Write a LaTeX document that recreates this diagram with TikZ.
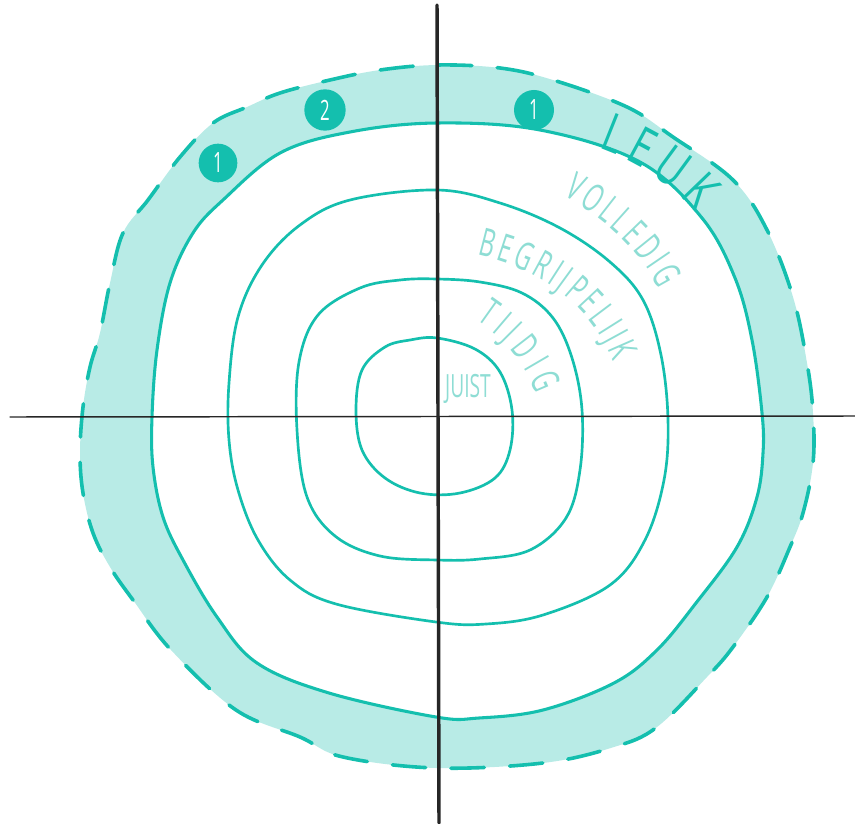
\documentclass[tikz,border=0pt]{standalone}
\usepackage{fontspec}
\usetikzlibrary{decorations.text}
\newfontfamily\handwide[FakeStretch=0.72]{Open Sans}
\newfontfamily\handnarrow[FakeStretch=0.6]{Open Sans}
\definecolor{tealdark}{HTML}{14BFAE}
\definecolor{teallight}{HTML}{B8EBE6}
\definecolor{tealtext}{HTML}{8EDDD4}
\newcommand\leukfont{\handwide\fontsize{40}{44}\selectfont\color{tealdark}}
\newcommand\ringfont{\handnarrow\fontsize{29}{32}\selectfont\color{tealtext}}
\tikzset{
  ring/.style={draw=tealdark, line width=2pt},
  outerring/.style={draw=tealdark, line width=2.3pt},
  dashedrim/.style={draw=tealdark, line width=2.7pt, line cap=round, dash pattern=on 25pt off 19pt},
  badge/.style={circle, fill=tealdark, minimum size=29pt, inner sep=0pt, text=white,
    font={\handnarrow\fontsize{21}{23}\selectfont}},
  wordpath/.style={decorate, decoration={text along path, text align=fit to path, text={#1}}},
  axisline/.style={draw=black!85, line cap=round}
}
\begin{document}
\begin{tikzpicture}[x=0.75pt,y=-0.75pt]
\useasboundingbox (0,0) rectangle (855,823);
% outer band
\fill[teallight] plot[smooth cycle, tension=0.6] coordinates {
(437,65) (500,68) (553,80) (627,107) (673,137) (733,180) (767,230) (793,297) (807,363)
(813,413) (813,463) (803,513) (790,547) (767,597) (733,647) (707,677) (657,727) (614,747)
(543,763) (436,768) (343,757) (300,737) (236,710) (171,650) (133,600) (110,567)
(93,533) (83,493) (80,453) (83,407) (90,367) (100,333) (110,283) (123,233) (148,200) (180,157)
(213,123) (247,107) (280,93) (330,80) (380,70)};
\draw[dashedrim] plot[smooth cycle, tension=0.6] coordinates {
(437,65) (500,68) (553,80) (627,107) (673,137) (733,180) (767,230) (793,297) (807,363)
(813,413) (813,463) (803,513) (790,547) (767,597) (733,647) (707,677) (657,727) (614,747)
(543,763) (436,768) (343,757) (300,737) (236,710) (171,650) (133,600) (110,567)
(93,533) (83,493) (80,453) (83,407) (90,367) (100,333) (110,283) (123,233) (148,200) (180,157)
(213,123) (247,107) (280,93) (330,80) (380,70)};
% ring 1
\path[fill=white, outerring] plot[smooth cycle, tension=0.6] coordinates {
(437,123) (540,130) (640,162) (702,218) (735,278) (752,340) (762,413) (763,453) (757,497)
(737,547) (696,603) (657,650) (614,683) (543,710) (479,718) (436,717) (329,693) (257,663)
(217,617) (183,560) (163,517) (153,467) (152,417) (157,350) (170,283) (193,233) (223,200)
(280,153) (350,132)};
% ring 2
\draw[ring] plot[smooth cycle, tension=0.6] coordinates {
(437,190) (500,203) (560,228) (610,262) (643,300) (661,355) (668,420) (664,480) (645,540)
(610,585) (543,615) (486,624) (436,622) (336,604) (290,580) (258,540) (238,490) (229,440)
(229,383) (238,317) (262,265) (300,225) (350,200)};
% ring 3
\draw[ring] plot[smooth cycle, tension=0.6] coordinates {
(437,279) (480,282) (522,293) (553,318) (572,358) (582,410) (580,470) (566,518) (530,550)
(480,559) (437,560) (380,556) (335,536) (307,497) (297,430) (299,362) (318,315) (360,288)
(400,280)};
% ring 4
\draw[ring] plot[smooth cycle, tension=0.6] coordinates {
(437,338) (475,349) (500,372) (512,410) (510,450) (495,478) (460,493) (420,493) (385,478)
(362,450) (356,410) (362,370) (385,347) (410,340)};
% words
\path[wordpath={|\leukfont|LEUK}] (598,148) .. controls (632,160) and (670,182) .. (696,213);
\path[wordpath={|\ringfont|VOLLEDIG}] (563,196) .. controls (600,215) and (638,247) .. (659,289);
\path[wordpath={|\ringfont|BEGRIJPELIJK}] (477,255) .. controls (530,267) and (587,296) .. (613,362);
\path[wordpath={|\ringfont|TIJDIG}] (476,320) .. controls (500,336) and (523,358) .. (536,394);
\node[font={\handnarrow\fontsize{24}{26}\selectfont}, text=tealtext, inner sep=0pt] (juist) at (468,389) {JUIST};
% badges
\node[badge] (b1) at (218,163) {1};
\node[badge, minimum size=31pt] (b2) at (325,110) {2};
\node[badge, minimum size=30pt] (b3) at (534,110) {1};
% axes
\coordinate (ytop) at (437,5);
\coordinate (ybot) at (439,823);
\coordinate (xleft) at (10,417);
\coordinate (xright) at (855,416);
\draw[axisline, line width=1.1pt] (xleft) -- (xright);
\draw[axisline, line width=2.6pt] (ytop) -- (ybot);
\end{tikzpicture}
\end{document}
